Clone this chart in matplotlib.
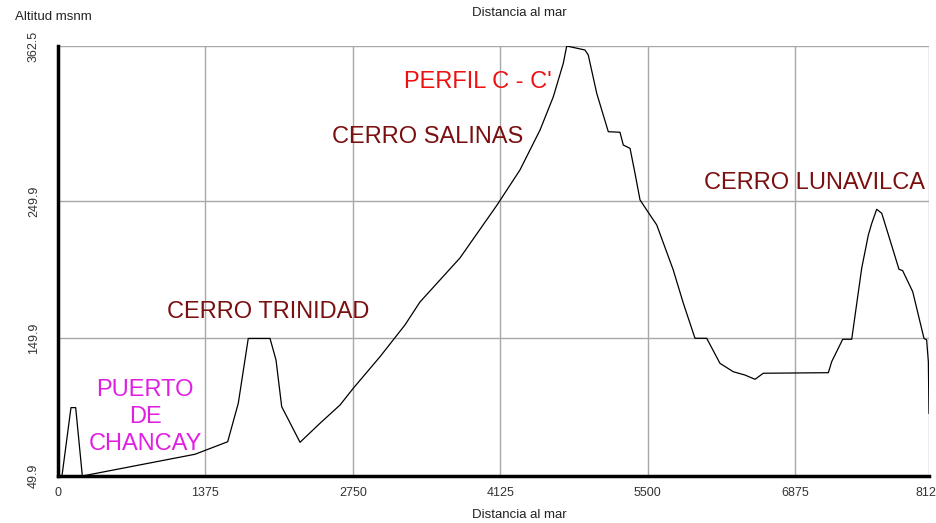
import matplotlib.pyplot as plt

plt.rcParams['font.family'] = ['Liberation Sans', 'DejaVu Sans']

# profile: distance to the sea (m) vs altitude (msnm)
distancia = [37, 121, 165, 227, 1278, 1583, 1682, 1775, 1978, 2034, 2087, 2258,
             2444, 2631, 2755, 3004, 3237, 3377, 3750, 4096, 4310, 4497, 4621,
             4714, 4746, 4916, 4947, 5026, 5134, 5243, 5274, 5337, 5383, 5430,
             5492, 5586, 5740, 5834, 5943, 6052, 6176, 6300, 6409, 6503, 6580,
             7187, 7218, 7321, 7405, 7498, 7560, 7592, 7638, 7685, 7762, 7846,
             7880, 7974, 8079, 8104, 8120, 8126]
altitud = [49.9, 99.6, 99.6, 49.9, 65.7, 74.8, 102.8, 149.9, 149.9, 134.2, 100.3,
           74.4, 88.2, 101.5, 113.7, 136.6, 159.7, 176.4, 208.4, 246.9, 272.4,
           301.4, 325.6, 349.9, 362.5, 359.6, 356.0, 328.1, 300.2, 299.8, 290.5,
           288.1, 270.0, 250.6, 243.3, 232.4, 199.7, 175.5, 150.0, 150.0, 131.8,
           125.7, 123.3, 120.2, 124.6, 125.0, 133.0, 149.3, 149.3, 200.9, 225.1,
           233.6, 243.8, 240.9, 221.5, 200.2, 199.2, 183.9, 150.0, 148.8, 133.0,
           95.5]

xticks = [0, 1375, 2750, 4125, 5500, 6875, 8126]
yticks = [49.9, 149.9, 249.9, 362.5]

fig = plt.figure(figsize=(9.37, 5.23), dpi=100)
ax = fig.add_axes([58 / 937, 1 - 476 / 523, 871 / 937, 430 / 523])

ax.plot(distancia, altitud, color='black', lw=0.9, zorder=3)

ax.set_xlim(0, 8126)
ax.set_ylim(49.9, 362.5)
ax.set_xticks(xticks)
ax.set_xticklabels([str(t) for t in xticks], fontsize=9, color='#333333')
ax.set_yticks(yticks)
ax.set_yticklabels([str(t) for t in yticks], fontsize=9, color='#333333',
                   rotation=90, va='center')
ax.tick_params(axis='y', length=0, pad=13)
ax.tick_params(axis='x', length=0, pad=8)
ax.grid(True, color='#a8a8a8', lw=1.0)

for s in ['top', 'right']:
    ax.spines[s].set_visible(False)
ax.spines['left'].set_linewidth(2.5)
ax.spines['bottom'].set_linewidth(2.5)

fig.text(15 / 937, 1 - 17 / 523, 'Altitud msnm', fontsize=9.5, color='#222222', va='center')
fig.text(519 / 937, 1 - 13 / 523, 'Distancia al mar', fontsize=9.5, color='#222222',
         ha='center', va='center')
fig.text(519 / 937, 1 - 515 / 523, 'Distancia al mar', fontsize=9.5, color='#222222',
         ha='center', va='center')

maroon = '#7a0f0f'
ax.text(3918, 336, "PERFIL C - C'", color='#ee1111', fontsize=17, ha='center', va='center')
ax.text(3452, 296, 'CERRO SALINAS', color=maroon, fontsize=17, ha='center', va='center')
ax.text(1959, 169, 'CERRO TRINIDAD', color=maroon, fontsize=17, ha='center', va='center')
ax.text(7062, 263, 'CERRO LUNAVILCA', color=maroon, fontsize=17, ha='center', va='center')
ax.text(812, 93, 'PUERTO\nDE\nCHANCAY', color='#e020e0', fontsize=17, ha='center',
        va='center', linespacing=1.3)

fig.savefig('out.png', dpi=100)
